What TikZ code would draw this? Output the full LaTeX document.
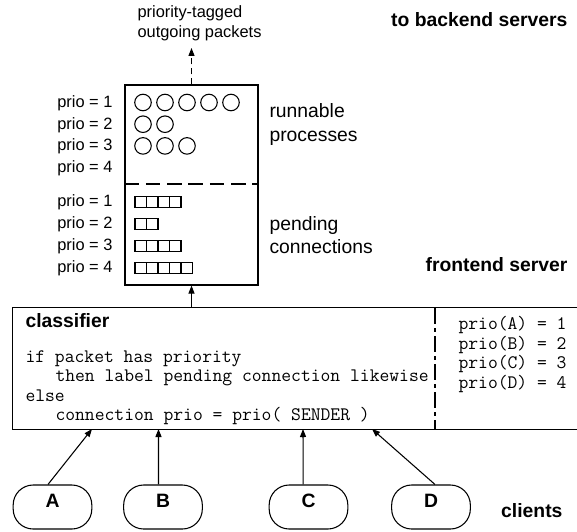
\documentclass[tikz,border=0pt]{standalone}
\usepackage{fontspec}
\setmainfont{Liberation Sans}
\usetikzlibrary{positioning, arrows.meta, fit}

\begin{document}
\begin{tikzpicture}[x=0.75pt, y=-0.75pt, line width=0.8pt, >={Triangle[length=6pt,width=4.5pt]},
    txt/.style={inner sep=0pt, text height=1.5ex, text depth=.25ex},
    small/.style={txt, font=\fontsize{12.3}{15}\selectfont},
    bold/.style={txt, font=\fontsize{14.5}{17.3}\selectfont\bfseries},
    pair/.style={inner sep=0pt, align=left, anchor=west, font=\fontsize{14.5}{17.3}\selectfont},
    code/.style={txt, anchor=west, font=\fontsize{14.3}{17}\selectfont\ttfamily},
    client/.style={draw, rounded corners=15pt, minimum width=59pt, minimum height=33pt,
        inner sep=0pt, text height=8pt, text depth=8pt, font=\fontsize{14.5}{17.3}\selectfont\bfseries}]
    \useasboundingbox (0,0) rectangle (577,531);
    % queue box of the frontend
    \node[draw, fit={(125,85) (258,285)}, inner sep=0pt] (queue) {};
    \coordinate (mid) at (191.5,184);
    \draw[dash pattern=on 11pt off 5pt] (queue.west |- mid) -- (queue.east |- mid);
    % runnable processes
    \foreach \p [count=\r from 0] in {1,...,4}
        \node[small, anchor=east] (rp\p) at (113,103+21.7*\r) {prio = \p};
    \foreach \n [count=\r from 0] in {5,2,3}
        \foreach \i in {1,...,\n}
            \draw (121+22*\i,102.5+21.7*\r) circle (6.2pt);
    % pending connections
    \foreach \p [count=\r from 0] in {1,...,4}
        \node[small, anchor=east] (cp\p) at (113,202+22*\r) {prio = \p};
    \foreach \n [count=\r from 0] in {4,2,4,5}
        \foreach \i in {1,...,\n}
            \draw (123.5+11.5*\i,196.7+22*\r) rectangle ++(11.5,10.6);
    \node[pair] (runl) at (269,124.5) {runnable\\processes};
    \node[pair] (pendl) at (269,235) {pending\\connections};
    % outgoing packets
    \coordinate (out) at (191.5,48);
    \draw[->, dash pattern=on 5pt off 2.5pt] (queue.north) -- (out);
    \node[pair, font=\fontsize{12.3}{15}\selectfont] (outl) at (137,23) {priority-tagged\\outgoing packets};
    \node[bold, anchor=east] (backend) at (568,22) {to backend servers};
    \node[bold, anchor=east] (frontend) at (568,267) {frontend server};
    % classifier
    \node[fit={(13,308) (577,429)}, inner sep=0pt] (cls) {};
    \draw (cls.north east) -- (cls.north west) -- (cls.south west) -- (cls.south east);
    \draw[->] (cls.north -| queue.south) -- (queue.south);
    \coordinate (split) at (435,308);
    \draw[dash pattern=on 12pt off 3pt on 3pt off 3pt] (split) -- (split |- cls.south);
    \node[bold, anchor=west] (clsl) at (25,323) {classifier};
    \node[code] (c1) at (25,358) {if packet has priority};
    \node[code] (c2) at (55,377) {then label pending connection likewise};
    \node[code] (c3) at (25,397) {else};
    \node[code] (c4) at (55,416) {connection prio = prio( SENDER )};
    \foreach \c/\p [count=\r from 0] in {A/1,B/2,C/3,D/4}
        \node[code] (pr\c) at (458,325+19.7*\r) {prio(\c) = \p};
    % clients
    \node[client] (A) at (52.5,507) {A};
    \node[client] (B) at (163,507) {B};
    \node[client] (C) at (308.5,507) {C};
    \node[client] (D) at (431,507) {D};
    \node[bold, anchor=east] (clientsl) at (563,513) {clients};
    \coordinate (tA) at (92,429);
    \coordinate (tB) at (158.5,429);
    \coordinate (tC) at (303,429);
    \coordinate (tD) at (372,429);
    \draw[->] ([xshift=-3.4pt]A.north) -- (tA);
    \draw[->] ([xshift=-3.4pt]B.north) -- (tB);
    \draw[->] ([xshift=-4pt]C.north) -- (tC);
    \draw[->] ([xshift=3pt]D.north) -- (tD);
\end{tikzpicture}
\end{document}
